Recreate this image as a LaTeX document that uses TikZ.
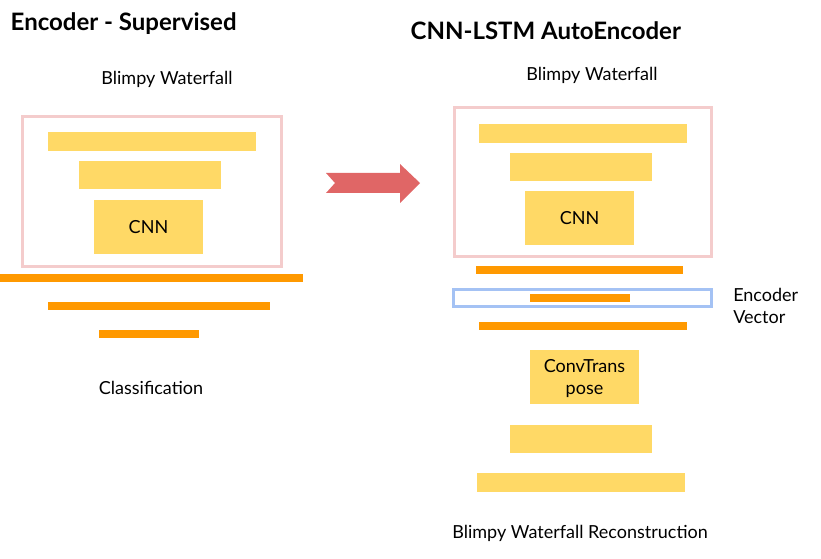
\documentclass[tikz,border=0pt]{standalone}
\usepackage{fontspec}
\setmainfont{Lato}
\usepackage{tikz}
\usetikzlibrary{fit}
\definecolor{layeryellow}{HTML}{FFD966}
\definecolor{layerorange}{HTML}{FF9900}
\definecolor{framepink}{HTML}{F4CCCC}
\definecolor{frameblue}{HTML}{A4C2F4}
\definecolor{arrowred}{HTML}{E06666}
\begin{document}
\begin{tikzpicture}[
   x=0.75pt,y=-0.75pt,
   font=\fontsize{13.5}{16.5}\selectfont,
   layer/.style={fill=layeryellow,draw=none,inner sep=0pt,align=center},
   flat/.style={fill=layerorange,draw=none,inner sep=0pt},
   frame/.style={draw=framepink,line width=2.2pt,inner sep=-1.1pt},
   vecframe/.style={draw=frameblue,line width=2.2pt,inner sep=-1.1pt},
   title/.style={font=\fontsize{18}{20}\selectfont\bfseries,anchor=west},
   caption/.style={inner sep=0pt}]
\useasboundingbox (0,0) rectangle (821,559);
% left: supervised encoder
\node[title] (ltitle) at (6,24) {Encoder - Supervised};
\node[caption] (lin) at (167,79) {Blimpy Waterfall};
\node[frame,fit={(21,115) (283,268)}] (lframe) {};
\node[layer,fit={(48,132) (256,151)}] (l1) {};
\node[layer,fit={(79,161) (221,189)}] (l2) {};
\node[layer,fit={(94,200) (203,254)}] (l3) {};
\node at (l3.center) {CNN};
\node[flat,fit={(0,274) (303,282)}] (f1) {};
\node[flat,fit={(48,302) (270,310)}] (f2) {};
\node[flat,fit={(99,330) (199,338)}] (f3) {};
\node[caption] (lout) at (151,388) {Classification};
% big arrow
\fill[arrowred] (326,173) -- (400,173) -- (400,164) -- (420,183) -- (400,203)
   -- (400,193) -- (326,193) -- (335,183) -- cycle;
% right: autoencoder
\node[title] (rtitle) at (406,31) {CNN-LSTM AutoEncoder};
\node[caption] (rin) at (592,75) {Blimpy Waterfall};
\node[frame,fit={(453,106) (713,258)}] (rframe) {};
\node[layer,fit={(479,124) (687,143)}] (r1) {};
\node[layer,fit={(510,153) (652,181)}] (r2) {};
\node[layer,fit={(525,191) (634,245)}] (r3) {};
\node at (r3.center) {CNN};
\node[flat,fit={(476,266) (683,274)}] (e1) {};
\node[vecframe,fit={(452,288) (713,308)}] (vec) {};
\node[flat,fit={(530,294) (630,302)}] (e2) {};
\node[flat,fit={(479,322) (687,330)}] (e3) {};
\node[caption,align=left,anchor=west] (veclabel) at (733,306) {Encoder\\Vector};
\node[layer,fit={(530,350) (639,404)}] (d1) {};
\node[align=center] at ([yshift=-1.5pt]d1.center) {ConvTrans\\pose};
\node[layer,fit={(510,425) (652,453)}] (d2) {};
\node[layer,fit={(477,473) (685,492)}] (d3) {};
\node[caption] (rout) at (580,533) {Blimpy Waterfall Reconstruction};
\end{tikzpicture}
\end{document}
